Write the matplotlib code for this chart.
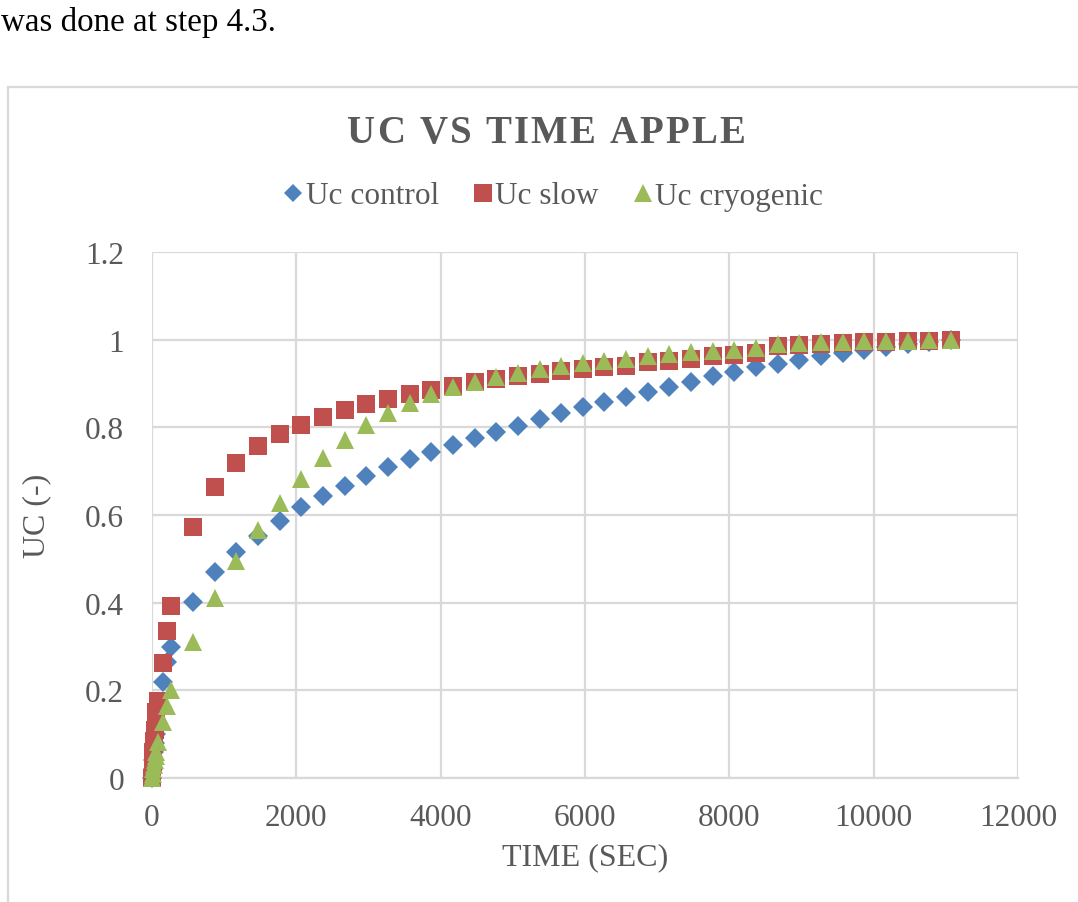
import matplotlib
matplotlib.use('agg')
import matplotlib.pyplot as plt
from matplotlib.patches import Rectangle

# time in seconds (dense at the start, then every 300 s)
time_s = [0, 10, 20, 30, 40, 50, 60, 90, 150, 210, 270,
          570, 870, 1170, 1470, 1770, 2070, 2370, 2670, 2970, 3270,
          3570, 3870, 4170, 4470, 4770, 5070, 5370, 5670, 5970, 6270,
          6570, 6870, 7170, 7470, 7770, 8070, 8370, 8670, 8970, 9270,
          9570, 9870, 10170, 10470, 10770, 11070]

uc_control = [0, 0.02, 0.04, 0.06, 0.08, 0.10, 0.12, 0.16, 0.22, 0.265, 0.30,
              0.401, 0.469, 0.515, 0.553, 0.587, 0.618, 0.644, 0.667, 0.688, 0.709,
              0.728, 0.744, 0.760, 0.776, 0.790, 0.804, 0.819, 0.832, 0.846, 0.857,
              0.870, 0.881, 0.893, 0.904, 0.916, 0.927, 0.937, 0.945, 0.954, 0.962,
              0.969, 0.976, 0.984, 0.990, 0.995, 1.0]

uc_slow = [0, 0.03, 0.06, 0.085, 0.11, 0.13, 0.15, 0.175, 0.262, 0.336, 0.393,
           0.572, 0.665, 0.719, 0.757, 0.784, 0.805, 0.824, 0.840, 0.853, 0.865,
           0.876, 0.886, 0.894, 0.903, 0.910, 0.916, 0.922, 0.929, 0.934, 0.937,
           0.941, 0.948, 0.952, 0.957, 0.962, 0.965, 0.969, 0.986, 0.988, 0.990,
           0.992, 0.994, 0.995, 0.997, 0.998, 1.0]

uc_cryo = [0, 0.01, 0.02, 0.03, 0.04, 0.05, 0.06, 0.081, 0.128, 0.165, 0.20,
           0.31, 0.411, 0.495, 0.565, 0.628, 0.681, 0.731, 0.770, 0.805, 0.833,
           0.856, 0.875, 0.891, 0.904, 0.915, 0.925, 0.932, 0.940, 0.946, 0.952,
           0.957, 0.963, 0.967, 0.971, 0.975, 0.977, 0.981, 0.989, 0.992, 0.994,
           0.995, 0.996, 0.998, 0.998, 0.999, 1.0]

x_ticks = [0, 2000, 4000, 6000, 8000, 10000, 12000]
y_ticks = [0, 0.2, 0.4, 0.6, 0.8, 1.0, 1.2]
y_tick_labels = ['0', '0.2', '0.4', '0.6', '0.8', '1', '1.2']
title = 'UC VS TIME APPLE'

plt.rcParams['font.family'] = ['Liberation Serif', 'DejaVu Serif']
txt = '#595959'
grid = '#d9d9d9'
W, H = 1078, 903

fig = plt.figure(figsize=(W / 100.0, H / 100.0), dpi=100)
fig.patch.set_facecolor('white')

# chart border (runs off the right and bottom of the page)
fig.patches.append(Rectangle((7.5 / W, -0.05), 1.2, 1 - 87.5 / H + 0.05,
                             transform=fig.transFigure, fill=False,
                             edgecolor=grid, linewidth=1.6))

fig.text(1 / W, 1 - 22 / H, 'was done at step 4.3.', fontsize=23.8,
         color='black', ha='left', va='center')

ax = fig.add_axes([152 / W, 1 - 779 / H, (1018 - 152) / W, (779 - 253) / H])
ax.plot(time_s, uc_control, 'D', color='#4F81BD', ms=10, mew=0,
        label='Uc control', clip_on=False, zorder=3)
ax.plot(time_s, uc_slow, 's', color='#C0504D', ms=13, mew=0,
        label='Uc slow', clip_on=False, zorder=4)
ax.plot(time_s, uc_cryo, '^', color='#9BBB59', ms=13.5, mew=0,
        label='Uc cryogenic', clip_on=False, zorder=5)

ax.set_xlim(0, 12000)
ax.set_ylim(0, 1.2)
ax.set_xticks(x_ticks)
ax.set_xticklabels([str(v) for v in x_ticks])
ax.set_yticks(y_ticks)
ax.set_yticklabels(y_tick_labels)
ax.tick_params(length=0, labelsize=22.5, labelcolor=txt)
ax.tick_params(axis='y', pad=20)
ax.tick_params(axis='x', pad=18)
ax.grid(True, color=grid, linewidth=1.6)
ax.set_axisbelow(True)
for s in ['top', 'right', 'left']:
    ax.spines[s].set_visible(False)
ax.spines['bottom'].set_color(grid)
ax.spines['bottom'].set_linewidth(1.6)

fig.text(37 / W, 1 - 516 / H, 'UC (-)', rotation=90, fontsize=23,
         color=txt, ha='center', va='center')
fig.text(585 / W, 1 - 858 / H, 'TIME (SEC)', fontsize=23,
         color=txt, ha='center', va='center')

# title with a little letter spacing, laid out one character at a time
renderer = fig.canvas.get_renderer()
pieces = []
total = 0.0
spacing = 2.2
for ch in title:
    t = fig.text(0, 0, ch, fontsize=28, fontweight='bold', color=txt,
                 ha='left', va='baseline')
    w = t.get_window_extent(renderer).width if ch != ' ' else 0.0
    if ch == ' ':
        t.set_text('')
        w = 28 * 100 / 72.0 * 0.25
    pieces.append((t, w))
    total += w + spacing
total -= spacing
x0 = 546 - total / 2.0
for t, w in pieces:
    t.set_position((x0 / W, 1 - 143 / H))
    x0 += w + spacing

fig.legend(loc='center', bbox_to_anchor=(552 / W, 1 - 197 / H), ncol=3,
           frameon=False, fontsize=22.5, labelcolor=txt, handletextpad=0.0,
           columnspacing=1.0, handlelength=0.8, markerscale=0.95)

fig.savefig('out.png', dpi=100)
plt.close(fig)
